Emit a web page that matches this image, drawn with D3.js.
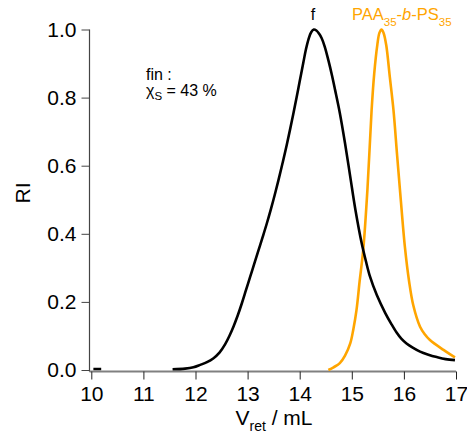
<!DOCTYPE html>
<html>
<head>
<meta charset="utf-8">
<script src="https://cdn.jsdelivr.net/npm/d3@7"></script>
<style>
  html, body { margin: 0; padding: 0; background: #fff; }
  svg { display: block; font-family: "Liberation Sans", Arial, Helvetica, sans-serif; }
</style>
</head>
<body>
<svg id="chart" width="467" height="435"></svg>
<script>
// ---- data ----
const xTicks = [10, 11, 12, 13, 14, 15, 16, 17];
const yTicks = [0, 0.2, 0.4, 0.6, 0.8, 1.0];

// black trace (fin, f) — null marks a gap
const finX = [10.04, 10.19, null,
  11.56, 11.8, 11.96, 12.09, 12.22, 12.34, 12.46, 12.57, 12.65, 12.73, 12.81, 12.89,
  12.97, 13.05, 13.13, 13.21, 13.29, 13.37, 13.45, 13.52, 13.59, 13.67, 13.75, 13.85,
  13.94, 14.0, 14.07, 14.12, 14.17, 14.22, 14.27, 14.32, 14.37, 14.42, 14.48, 14.55,
  14.62, 14.68, 14.77, 14.87, 14.97, 15.07, 15.19, 15.27, 15.35, 15.48, 15.64, 15.76,
  15.86, 15.95, 16.05, 16.18, 16.31, 16.47, 16.63, 16.8, 16.98];
const finY = [0.003, 0.003, null,
  0.002, 0.004, 0.008, 0.015, 0.023, 0.034, 0.051, 0.076, 0.1, 0.128, 0.16, 0.196,
  0.235, 0.274, 0.313, 0.352, 0.391, 0.431, 0.474, 0.514, 0.556, 0.607, 0.66, 0.732,
  0.8, 0.848, 0.903, 0.942, 0.972, 0.992, 1.0, 0.997, 0.988, 0.975, 0.95, 0.91,
  0.865, 0.822, 0.755, 0.666, 0.568, 0.47, 0.372, 0.32, 0.274, 0.22, 0.168, 0.135,
  0.11, 0.092, 0.078, 0.065, 0.054, 0.045, 0.038, 0.032, 0.029];

// orange trace (PAA35-b-PS35)
const paaX = [14.55, 14.65, 14.77, 14.87, 14.97, 15.03, 15.09, 15.15, 15.22, 15.3, 15.38,
  15.43, 15.49, 15.53, 15.57, 15.61, 15.66, 15.73, 15.8, 15.87, 15.93, 16.02, 16.1,
  16.18, 16.31, 16.4, 16.5, 16.76, 16.98];
const paaY = [0.0, 0.008, 0.02, 0.042, 0.078, 0.12, 0.176, 0.26, 0.354, 0.53, 0.763,
  0.87, 0.955, 0.99, 1.0, 0.99, 0.955, 0.86, 0.763, 0.63, 0.519, 0.36, 0.26,
  0.19, 0.127, 0.105, 0.088, 0.059, 0.037];

// ---- chart ----
const svg = d3.select("#chart");
const x = d3.scaleLinear().domain([10, 17]).range([91.3, 456]);
const y = d3.scaleLinear().domain([0, 1]).range([370, 29.5]);

// axes
const xAxis = svg.append("g").attr("transform", "translate(0,371.5)")
  .call(d3.axisBottom(x).tickValues(xTicks).tickFormat(d3.format("d")).tickSize(8).tickSizeOuter(0).tickPadding(7));
xAxis.select(".domain").attr("stroke", "#808080").attr("stroke-width", 2)
  .attr("d", `M${89.5},0H${x(17)}`);
xAxis.selectAll(".tick line").attr("stroke", "#222");
xAxis.selectAll(".tick text").attr("font-size", 21).attr("fill", "#000")
  .attr("font-family", "'Liberation Sans', Arial, sans-serif");

const yAxis = svg.append("g").attr("transform", "translate(89.5,0)")
  .call(d3.axisLeft(y).tickValues(yTicks).tickFormat(d3.format(".1f")).tickSize(8).tickSizeOuter(0).tickPadding(5));
yAxis.select(".domain").attr("stroke", "#444").attr("stroke-width", 1.2)
  .attr("d", `M0,${y(1)}V371.5`);
yAxis.selectAll(".tick line").attr("stroke", "#444");
yAxis.selectAll(".tick text").attr("font-size", 21).attr("fill", "#000")
  .attr("font-family", "'Liberation Sans', Arial, sans-serif");

// lines
function drawLine(xs, ys, color) {
  const pts = xs.map((v, i) => [v, ys[i]]);
  const line = d3.line()
    .defined(d => d[0] !== null && d[1] !== null)
    .x(d => x(d[0])).y(d => y(d[1]))
    .curve(d3.curveCatmullRom.alpha(0.5));
  svg.append("path").datum(pts)
    .attr("d", line)
    .attr("fill", "none")
    .attr("stroke", color)
    .attr("stroke-width", 2.6)
    .attr("stroke-linejoin", "round");
}
drawLine(paaX, paaY, "#FFA500");
drawLine(finX, finY, "#000");

// axis titles
svg.append("text")
  .attr("transform", "translate(30,193) rotate(-90)")
  .attr("text-anchor", "middle")
  .attr("font-size", 21)
  .text("RI");

const xt = svg.append("text")
  .attr("x", 274).attr("y", 425)
  .attr("text-anchor", "middle")
  .attr("font-size", 21);
xt.append("tspan").text("V");
xt.append("tspan").attr("font-size", 14).attr("dy", 6).text("ret");
xt.append("tspan").attr("dy", -6).text(" / mL");

// annotations
svg.append("text").attr("x", 313).attr("y", 20).attr("text-anchor", "middle")
  .attr("font-size", 16).text("f");

const pt = svg.append("text").attr("x", 352).attr("y", 20)
  .attr("font-size", 16.5).attr("fill", "#FFA500");
pt.append("tspan").text("PAA");
pt.append("tspan").attr("font-size", 11.5).attr("dy", 6).text("35");
pt.append("tspan").attr("dy", -6).text("-");
pt.append("tspan").attr("font-style", "italic").text("b");
pt.append("tspan").text("-PS");
pt.append("tspan").attr("font-size", 11.5).attr("dy", 6).text("35");

svg.append("text").attr("x", 146).attr("y", 80).attr("font-size", 16).text("fin :");
const ch = svg.append("text").attr("x", 146).attr("y", 96).attr("font-size", 16);
ch.append("tspan").text("χ");
ch.append("tspan").attr("font-size", 11.5).attr("dy", 4).text("S");
ch.append("tspan").attr("dy", -4).text(" = 43 %");
</script>
</body>
</html>
